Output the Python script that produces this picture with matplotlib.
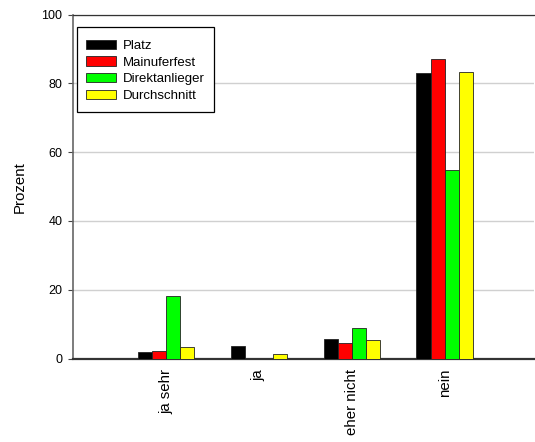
import numpy as np
import matplotlib
matplotlib.use("Agg")
import matplotlib.pyplot as plt
from matplotlib.patches import Rectangle

plt.rcParams['font.family'] = ['Liberation Sans', 'DejaVu Sans']

categories = ["ja sehr", "ja", "eher nicht", "nein"]
series_names = ["Platz", "Mainuferfest", "Direktanlieger", "Durchschnitt"]
platz = [1.9, 3.7, 5.6, 83.0]
mainuferfest = [2.3, 0.0, 4.6, 87.2]
direktanlieger = [18.2, 0.0, 9.0, 54.7]
durchschnitt = [3.3, 1.3, 5.3, 83.2]
colors = ["#000000", "#ff0000", "#00ff00", "#ffff00"]
y_ticks = [0, 20, 40, 60, 80, 100]

fig = plt.figure(figsize=(5.35, 4.42), dpi=100)
ax = fig.add_axes([0.1364, 0.1889, 0.8616, 0.7778])

x = np.arange(1, len(categories) + 1)
width = 0.152
all_series = [platz, mainuferfest, direktanlieger, durchschnitt]
for i, (vals, name, col) in enumerate(zip(all_series, series_names, colors)):
    offs = (i - 1.5) * width
    ax.bar(x + offs, vals, width, color=col, edgecolor="#222222",
           linewidth=0.6, label=name, zorder=3)

ax.set_xlim(0, 4.96)
ax.set_ylim(0, 100)
ax.set_yticks(y_ticks)
ax.yaxis.grid(True, color="#d0d0d0", linewidth=1.0, zorder=0)
ax.set_axisbelow(True)

ax.set_xticks(x)
ax.set_xticklabels(categories, rotation=90, va="top", ha="center", fontsize=10.8)
ax.tick_params(axis="x", length=0, pad=7.5)
ax.tick_params(axis="y", length=3.6, width=0.8, pad=4, labelsize=9,
               color="#444444")

ax.spines["right"].set_visible(False)
ax.spines["top"].set_color("#333333")
ax.spines["top"].set_linewidth(0.9)
ax.spines["left"].set_color("#666666")
ax.spines["left"].set_linewidth(1.2)
ax.spines["bottom"].set_color("#333333")
ax.spines["bottom"].set_linewidth(1.6)

ax.set_ylabel("Prozent", fontsize=10.8)
ax.yaxis.set_label_coords(-0.100, 0.5)

# legend box drawn separately so the padding can differ per side
frame = Rectangle((0.0087, 0.717), 0.2972, 0.2472, transform=ax.transAxes,
                  facecolor="white", edgecolor="#000000", linewidth=0.9,
                  zorder=4)
ax.add_patch(frame)
leg = ax.legend(loc="upper left", bbox_to_anchor=(0.0282, 0.927),
                borderaxespad=0, frameon=False, fontsize=9.5,
                handlelength=2.27, handleheight=0.68, handletextpad=0.53,
                labelspacing=0.34, borderpad=0)
leg.set_zorder(5)

fig.savefig("out.png", dpi=100)
